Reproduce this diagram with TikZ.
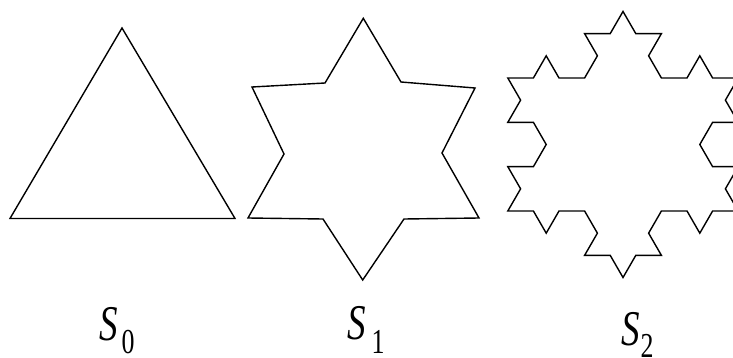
\documentclass[tikz,border=0pt]{standalone}
\usepackage{fontspec}
\setmainfont{Liberation Serif}
\newfontfamily\narrowfont{Liberation Serif}[FakeStretch=0.74]
\tikzset{
  fractal/.style={draw=black, line width=1.4pt, line join=miter},
  label0/.style={inner sep=0pt, anchor=base west, font=\fontsize{50}{50}\narrowfont},
}
\newcommand\idx[2]{\raisebox{#1}{\fontsize{35}{35}\selectfont #2}}
\begin{document}
\begin{tikzpicture}[x=1pt,y=1pt]
\useasboundingbox (0,0) rectangle (733,-358);
\fill[white] (0,0) rectangle (733,-358);
% S0
\draw[fractal] (10,-218.5) -- (122,-28) -- (235,-218.5) -- cycle;
% S1
\draw[fractal] (363.3,-18.3) -- (401,-82) -- (475,-88) -- (442,-153) -- (479,-218)
  -- (404,-219) -- (362.7,-280) -- (323,-219) -- (248,-218) -- (284,-154)
  -- (252,-87) -- (325,-83) -- cycle;
% S2 : Koch snowflake, level 2 (cut by the right edge)
\begin{scope}
\clip (480,0) rectangle (733,-358);
\draw[fractal] (507.8,-211)
  \foreach \s in {60,-60,180}{
    \foreach \a in {0,60,-60,0,60,120,0,60,-60,0,-120,-60,0,60,-60,0}{
      -- ++(\s+\a:25.6)
    }
  } -- cycle;
\end{scope}
% labels
\node[label0] (s0) at (99,-340) {\textit{S}\hspace{4pt}\idx{-13pt}{0}};
\node[label0] (s1) at (347,-339) {\textit{S}\hspace{6pt}\idx{-14pt}{1}};
\node[label0] (s2) at (621,-345) {\textit{S}\hspace{1pt}\idx{-12pt}{2}};
\end{tikzpicture}
\end{document}
